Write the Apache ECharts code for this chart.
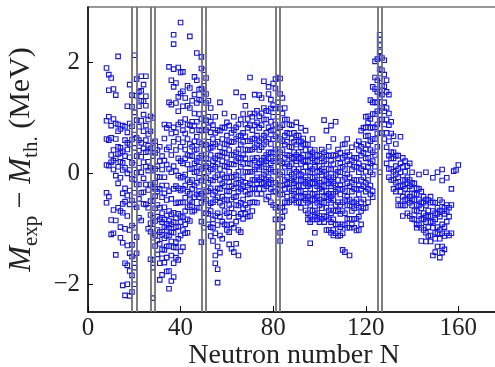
<!DOCTYPE html>
<html>
<head>
<meta charset="utf-8">
<script src="https://cdn.jsdelivr.net/npm/echarts@6/dist/echarts.min.js"></script>
<style>
html,body{margin:0;padding:0;background:#fff;}
#chart{width:495px;height:367px;}
</style>
</head>
<body>
<div id="chart"></div>
<script>
// Each entry: [neutron number N, [M_exp - M_th values in MeV]]
const lightNuclei = [
  [8, [0.95, 0.62, -0.35, -0.53, 1.9, 0.15]],
  [9, [1.78, 1.02, 0.14, -0.42, 0.6, 1.5]],
  [10, [1.72, 0.86, 0.2, -0.84, -1.1, 0.33, 0.64]],
  [11, [1.52, 0.98, 0.07, -0.66, -1.08, 0.42, 0.23]],
  [12, [1.41, 0.62, 0.27, -0.04, -0.85, -1.47, 0.9]],
  [13, [2.11, 0.76, 0.48, 0.12, -0.18, -0.62, 0.35, 0.88]],
  [14, [0.46, 0.21, -0.08, -0.68, -0.97, -1.16, 0.8, 0.37]],
  [15, [0.86, 0.4, 0.06, -0.36, -0.55, -0.71, -1.25, -2.02, 0.19]],
  [16, [0.84, 0.31, 0.1, -0.27, -0.51, -1.0, -1.62, -2.2, 0.6]],
  [17, [1.21, 0.74, 0.43, 0.0, -0.4, -0.77, -1.3, -1.66, -2.0, 0.55]],
  [18, [1.6, 0.9, 0.52, 0.29, 0.06, -0.31, -0.56, -1.02, -1.44, -1.76, -2.21]],
  [19, [1.41, 1.2, 0.85, 0.61, 0.19, -0.1, -0.49, -0.94, -1.29, -1.5, -1.84, -2.14]],
  [20, [2.13, 1.1, 0.7, 0.46, 0.15, -0.11, -0.35, -0.56, -0.98, -1.55, -1.7, -2.0]],
  [21, [1.7, 1.4, 0.96, 0.64, 0.31, 0.01, -0.2, -0.61, -1.15, -1.44]],
  [22, [1.47, 1.21, 0.84, 0.41, 0.1, -0.2, -0.46, -0.8, 0.6]],
  [23, [1.75, 1.49, 1.31, 0.95, 0.55, 0.3, 0.02, -0.35, -0.85]],
  [24, [1.6, 1.3, 1.06, 0.76, 0.45, 0.2, -0.09, -0.55, -0.34]],
  [25, [1.75, 1.39, 1.22, 0.86, 0.6, 0.38, 0.12, -0.2, -0.56]],
  [26, [0.97, 0.71, 0.5, 0.39, 0.05, -0.3, -0.62, -1.0, 0.21]],
  [27, [1.03, 0.76, 0.45, 0.1, -0.2, -0.5, -0.75, -0.9, -1.05, -1.55]],
  [28, [1.0, 0.55, 0.31, 0.05, -0.25, -0.5, -0.8, -1.0, -1.16, -1.7, -2.25, -1.56]]
];
const midLightNuclei = [
  [29, [0.58, 0.37, 0.08, -0.17, -0.41, -0.63, -0.86, -1.12, -1.31, -0.28]],
  [30, [0.42, 0.13, -0.06, -0.33, -0.57, -0.78, -1.02, -1.21, -1.46]],
  [31, [0.48, 0.22, -0.07, -0.28, -0.62, -0.83, -1.06, -1.27, -1.62, -1.92]],
  [32, [0.31, 0.07, -0.22, -0.43, -0.72, -0.88, -1.11, -1.37, -1.53, -1.83]],
  [33, [0.88, 0.63, 0.23, -0.07, -0.36, -0.61, -0.83, -0.97, -1.17, -1.38, -1.61]],
  [34, [0.82, 0.43, 0.16, -0.22, -0.48, -0.76, -0.91, -1.02, -1.13, -1.32, -1.52, -1.77]],
  [35, [1.92, 1.28, 0.87, 0.47, 0.08, -0.32, -0.68, -0.86, -0.98, -1.12, -1.31, -1.76, -2.08]],
  [36, [1.68, 1.24, 0.72, 0.33, 0.02, -0.46, -0.74, -0.92, -1.06, -1.23, -1.48, -1.94]],
  [37, [2.5, 2.33, 1.88, 1.56, 0.83, 0.57, 0.13, -0.28, -0.71, -0.88, -1.07, -1.33, -1.62, -1.87]],
  [38, [1.63, 1.27, 0.74, 0.42, 0.04, -0.23, -0.54, -0.81, -0.97, -1.24, -1.52, -1.34]],
  [39, [1.91, 1.38, 1.12, 0.88, 0.62, 0.27, -0.04, -0.27, -0.52, -0.73, -0.96, -1.18, -1.56]],
  [40, [2.72, 1.82, 1.44, 0.92, 0.48, 0.22, -0.08, -0.31, -0.53, -0.77, -0.88, -1.12, -1.41]],
  [41, [1.83, 1.48, 1.21, 0.78, 0.56, 0.18, -0.06, -0.28, -0.52, -0.79, -1.02, -1.33]],
  [42, [1.36, 0.98, 0.72, 0.43, 0.27, -0.02, -0.22, -0.44, -0.68, -0.92, -1.08]],
  [43, [1.58, 1.22, 0.88, 0.62, 0.33, 0.16, -0.12, -0.33, -0.61, -0.83, -1.07]],
  [44, [2.47, 1.54, 1.18, 0.87, 0.53, 0.32, 0.08, -0.16, -0.37, -0.58, -0.86, -0.48]],
  [45, [1.31, 0.93, 0.77, 0.48, 0.31, 0.08, -0.12, -0.28, -0.52, -0.69]],
  [46, [1.74, 1.42, 1.08, 0.86, 0.58, 0.42, 0.18, 0.02, -0.22, -0.43, -0.67]],
  [47, [2.17, 1.68, 1.27, 0.93, 0.66, 0.43, 0.22, 0.03, -0.17, -0.38, -0.62]],
  [48, [1.51, 1.33, 1.07, 0.78, 0.56, 0.28, 0.12, -0.08, -0.32, -0.43, -0.62]],
  [49, [2.1, 1.89, 1.53, 1.32, 0.98, 0.77, 0.53, 0.32, 0.08, -0.13, -0.37, -0.53, -0.87, -1.24]],
  [50, [1.86, 1.58, 1.46, 1.08, 0.87, 0.58, 0.42, 0.18, 0.02, -0.22, -0.43, -0.72, -0.98]]
];
const midNuclei = [
  [51, [1.72, 1.43, 1.27, 0.96, 0.78, 0.52, 0.27, 0.13, -0.08, -0.33, -0.47, -0.72]],
  [52, [1.31, 1.02, 0.83, 0.57, 0.44, 0.18, 0.03, -0.17, -0.32, -0.58, -0.73, -0.92]],
  [53, [1.18, 0.93, 0.74, 0.46, 0.33, 0.07, -0.12, -0.27, -0.54, -0.68, -0.97, -1.13]],
  [54, [0.87, 0.62, 0.48, 0.22, 0.08, -0.13, -0.38, -0.52, -0.83, -0.98, -1.22]],
  [55, [1.02, 0.73, 0.53, 0.27, 0.12, -0.07, -0.33, -0.48, -0.77, -1.08, -1.48, -1.62]],
  [56, [0.78, 0.57, 0.32, 0.17, -0.03, -0.27, -0.43, -0.72, -0.93, -1.32, -1.73, -1.97]],
  [57, [1.28, 0.77, 0.47, 0.32, 0.08, -0.12, -0.28, -0.53, -0.78, -1.12, -1.43]],
  [58, [0.83, 0.62, 0.38, 0.22, -0.02, -0.18, -0.42, -0.58, -0.87, -1.18]],
  [59, [1.08, 0.82, 0.53, 0.37, 0.13, -0.07, -0.23, -0.47, -0.68, -0.92]],
  [60, [0.92, 0.68, 0.52, 0.28, 0.12, -0.08, -0.32, -0.48, -0.72, -0.93, -1.02]],
  [61, [0.86, 0.58, 0.42, 0.17, 0.03, -0.16, -0.33, -0.57, -0.78, -1.06, -1.28]],
  [62, [0.73, 0.56, 0.33, 0.17, -0.07, -0.23, -0.47, -0.63, -0.92, -1.36]],
  [63, [1.02, 0.78, 0.57, 0.33, 0.16, -0.06, -0.27, -0.43, -0.72, -0.98, -1.42]],
  [64, [1.46, 0.83, 0.62, 0.38, 0.22, -0.03, -0.18, -0.42, -0.57, -0.87, -1.27]],
  [65, [0.88, 0.67, 0.43, 0.27, 0.03, -0.17, -0.33, -0.58, -0.78, -1.02, -1.48]],
  [66, [0.97, 0.68, 0.52, 0.28, 0.12, -0.12, -0.28, -0.53, -0.73, -1.06]],
  [67, [1.38, 1.07, 0.73, 0.57, 0.33, 0.17, -0.07, -0.23, -0.47, -0.63, -0.82]],
  [68, [1.22, 0.88, 0.67, 0.43, 0.27, 0.03, -0.17, -0.33, -0.57, -0.73]],
  [69, [0.98, 0.82, 0.58, 0.42, 0.18, 0.02, -0.22, -0.38, -0.62, -0.78]],
  [70, [1.73, 1.08, 0.87, 0.58, 0.42, 0.17, 0.03, -0.18, -0.37, -0.53, -0.77]],
  [71, [1.02, 0.78, 0.62, 0.43, 0.27, 0.03, -0.12, -0.28, -0.52, -0.68]],
  [72, [1.42, 1.08, 0.87, 0.63, 0.47, 0.23, 0.07, -0.12, -0.28, -0.52]],
  [73, [1.13, 0.92, 0.68, 0.52, 0.28, 0.12, -0.07, -0.18, -0.37, -0.53]],
  [74, [1.41, 1.03, 0.82, 0.58, 0.42, 0.18, 0.07, -0.12, -0.28]],
  [75, [1.36, 1.08, 0.87, 0.63, 0.47, 0.23, 0.12, -0.07, -0.18, -0.37]],
  [76, [1.66, 1.18, 0.97, 0.68, 0.52, 0.28, 0.17, -0.02, -0.17, -0.28]],
  [77, [1.13, 0.97, 0.73, 0.57, 0.33, 0.22, 0.03, -0.12, -0.23, -0.47]],
  [78, [1.56, 1.43, 1.12, 0.83, 0.62, 0.38, 0.27, 0.08, -0.07, -0.18, -0.42]],
  [79, [1.33, 1.17, 0.93, 0.77, 0.53, 0.37, 0.18, 0.07, -0.12, -0.28, -0.52]],
  [80, [1.62, 1.23, 1.02, 0.78, 0.62, 0.38, 0.22, 0.03, -0.17, -0.33, -0.57]],
  [81, [1.7, 1.53, 1.17, 0.88, 0.67, 0.43, 0.27, 0.03, -0.17, -0.33, -0.62, -0.83]],
  [82, [1.73, 1.28, 1.02, 0.73, 0.52, 0.28, 0.12, -0.12, -0.28, -0.52, -0.68]]
];
const midHeavyNuclei = [
  [83, [1.71, 1.43, 1.17, 0.83, 0.62, 0.38, 0.22, -0.02, -0.22, -0.38, -0.62, -0.83, -1.07, -1.22]],
  [84, [1.36, 1.08, 0.87, 0.58, 0.42, 0.18, 0.02, -0.22, -0.38, -0.62, -0.78, -0.97]],
  [85, [1.18, 0.97, 0.68, 0.52, 0.28, 0.12, -0.12, -0.28, -0.52, -0.68]],
  [86, [0.97, 0.73, 0.57, 0.33, 0.17, -0.07, -0.18, -0.42, -0.53]],
  [87, [0.88, 0.72, 0.48, 0.32, 0.13, 0.02, -0.17, -0.28, -0.52]],
  [88, [0.87, 0.63, 0.47, 0.28, 0.17, -0.02, -0.13, -0.32, -0.48]],
  [89, [0.73, 0.57, 0.38, 0.27, 0.08, -0.07, -0.18, -0.37, -0.48]],
  [90, [0.92, 0.68, 0.52, 0.33, 0.22, 0.03, -0.12, -0.23, -0.42, -0.53]],
  [91, [0.68, 0.57, 0.38, 0.27, 0.08, -0.03, -0.22, -0.33, -0.52]],
  [92, [0.82, 0.58, 0.47, 0.28, 0.17, -0.02, -0.13, -0.32, -0.43, -0.62]],
  [93, [0.63, 0.52, 0.33, 0.22, 0.03, -0.12, -0.23, -0.42, -0.53]],
  [94, [0.77, 0.53, 0.42, 0.23, 0.12, -0.07, -0.18, -0.37, -0.48, -0.67]],
  [95, [0.52, 0.33, 0.22, 0.03, -0.12, -0.23, -0.42, -0.53, -0.72, -0.83]],
  [96, [0.43, 0.32, 0.13, 0.02, -0.17, -0.28, -0.47, -0.58, -0.77, -0.88, -1.26]],
  [97, [0.62, 0.38, 0.27, 0.08, -0.07, -0.18, -0.37, -0.48, -0.67, -0.83]],
  [98, [0.42, 0.23, 0.12, -0.07, -0.18, -0.37, -0.48, -0.67, -0.78, -1.07]],
  [99, [0.33, 0.22, 0.03, -0.12, -0.23, -0.42, -0.53, -0.72, -0.83]],
  [100, [0.32, 0.13, 0.02, -0.17, -0.28, -0.47, -0.58, -0.77, -0.88]],
  [101, [0.43, 0.27, 0.08, -0.03, -0.22, -0.33, -0.52, -0.63, -0.82]],
  [102, [0.96, 0.38, 0.22, 0.03, -0.12, -0.23, -0.42, -0.53, -0.77, -0.88]],
  [103, [0.77, 0.33, 0.17, -0.02, -0.13, -0.32, -0.43, -0.62, -0.78, -1.02]],
  [104, [0.48, 0.32, 0.08, -0.07, -0.18, -0.37, -0.48, -0.67, -0.83, -1.02]],
  [105, [0.86, 0.23, 0.07, -0.12, -0.23, -0.42, -0.53, -0.72, -0.88, -1.07]],
  [106, [0.62, 0.33, 0.17, -0.07, -0.18, -0.37, -0.48, -0.67, -0.83, -1.02, -1.12]],
  [107, [0.93, 0.32, 0.08, -0.03, -0.22, -0.33, -0.57, -0.68, -0.92, -1.08]],
  [108, [0.43, 0.27, 0.03, -0.12, -0.28, -0.52, -0.68, -0.92, -1.13]],
  [109, [0.37, 0.18, 0.02, -0.22, -0.38, -0.57, -0.73, -0.97, -1.12]],
  [110, [0.52, 0.28, 0.12, -0.12, -0.28, -0.52, -0.68, -0.92, -1.08, -1.38]],
  [111, [0.53, 0.32, 0.08, -0.08, -0.32, -0.48, -0.72, -0.93, -1.42]],
  [112, [0.62, 0.38, 0.22, -0.02, -0.18, -0.42, -0.58, -0.82, -0.98]],
  [113, [0.33, 0.17, -0.07, -0.23, -0.47, -0.58, -0.82, -0.98, -1.48]],
  [114, [0.47, 0.23, 0.07, -0.17, -0.33, -0.52, -0.68, -0.92]],
  [115, [0.28, 0.12, -0.12, -0.28, -0.52, -0.63, -0.82, -0.98]],
  [116, [0.52, 0.28, 0.12, -0.12, -0.28, -0.47, -0.58, -0.82, -1.03]],
  [117, [0.58, 0.42, 0.18, 0.02, -0.22, -0.38, -0.62, -0.78, -1.02]],
  [118, [0.77, 0.48, 0.32, 0.08, -0.12, -0.28, -0.52, -0.68, -0.92]],
  [119, [0.82, 0.53, 0.37, 0.13, -0.07, -0.23, -0.47, -0.63]],
  [120, [1.02, 0.83, 0.67, 0.43, 0.27, 0.03, -0.17, -0.33, -0.62]],
  [121, [1.03, 0.92, 0.68, 0.52, 0.28, 0.12, -0.12, -0.28, -0.52]],
  [122, [1.32, 0.98, 0.82, 0.58, 0.42, 0.18, 0.02, -0.22, -0.38]],
  [123, [1.56, 1.28, 1.07, 0.83, 0.62, 0.38, 0.22, -0.02, -0.32, -0.43]],
  [124, [2.02, 1.73, 1.52, 1.28, 1.07, 0.83, 0.62, 0.33, 0.12]],
  [125, [2.06, 1.68, 1.47, 1.28, 1.12, 0.88, 0.72, 0.48]],
  [126, [2.5, 2.41, 2.31, 2.2, 2.1, 1.88, 1.72, 1.48, 1.37, 1.13, 0.97, 0.02]]
];
const heavyNuclei = [
  [127, [2.08, 1.86, 1.58, 1.42, 1.18, 0.97, 0.73]],
  [128, [2.04, 1.78, 1.57, 1.28, 1.12, 0.88, 0.62]],
  [129, [1.68, 1.47, 1.18, 0.97, 0.73, 0.47, 0.18]],
  [130, [1.42, 1.08, 0.87, 0.58, 0.32, 0.08, -0.07]],
  [131, [0.93, 0.72, 0.38, 0.27, 0.08, -0.12]],
  [132, [0.67, 0.38, 0.27, 0.03, -0.12, -0.28]],
  [133, [0.53, 0.32, 0.13, -0.02, -0.17, -0.33]],
  [134, [0.32, 0.08, -0.07, -0.23, -0.47, -0.58]],
  [135, [0.66, 0.18, 0.02, -0.22, -0.33, -0.57]],
  [136, [0.28, 0.12, -0.12, -0.23, -0.42, -0.58, -0.77]],
  [137, [0.22, 0.03, -0.12, -0.28, -0.47, -0.58]],
  [138, [0.13, -0.07, -0.18, -0.37, -0.48, -0.72]],
  [139, [0.18, -0.12, -0.23, -0.42, -0.53, -0.77]],
  [140, [0.02, -0.17, -0.28, -0.47, -0.58, -0.82]],
  [141, [-0.18, -0.37, -0.48, -0.67, -0.83]],
  [142, [-0.27, -0.38, -0.57, -0.68, -0.92, -0.98]],
  [143, [-0.02, -0.28, -0.47, -0.58, -0.77, -0.93]],
  [144, [-0.33, -0.52, -0.63, -0.82, -0.98, -1.22]],
  [145, [-0.42, -0.53, -0.72, -0.83, -1.02]],
  [146, [0.02, -0.47, -0.58, -0.77, -0.88, -1.07, -1.23]],
  [147, [-0.48, -0.67, -0.78, -0.97, -1.13]],
  [148, [-0.42, -0.53, -0.77, -0.88, -1.12, -1.23]],
  [149, [-0.08, -0.52, -0.68, -0.87, -0.98, -1.48]],
  [150, [-0.53, -0.72, -0.83, -1.07, -1.18, -1.42]],
  [151, [0.02, -0.62, -0.73, -0.97, -1.08, -1.32]],
  [152, [-0.48, -0.67, -0.78, -1.02, -1.18, -1.52]],
  [153, [0.07, -0.13, -0.52, -0.68, -0.92, -1.08, -1.32, -1.43]],
  [154, [-0.62, -0.73, -0.97, -1.13, -1.37]],
  [155, [-0.08, -0.57, -0.68, -0.87, -1.08]],
  [156, [-0.62, -0.78, -1.12]],
  [157, [-0.28, -0.57, -1.08]],
  [158, [0.04]],
  [159, [0.06]],
  [160, [0.15]]
];
// magic-number bands drawn as pairs of vertical lines
const magicLines = [19, 21, 27, 29, 49, 51, 81, 83, 125, 127];
const xTicks = [0, 40, 80, 120, 160];
const yTicks = [-2, 0, 2];

const points = [];
[lightNuclei, midLightNuclei, midNuclei, midHeavyNuclei, heavyNuclei].forEach(seg => {
  seg.forEach(([n, ys]) => ys.forEach(y => points.push([n, y])));
});

const chart = echarts.init(document.getElementById('chart'), null, {renderer: 'canvas'});
const serif = '"Liberation Serif", "DejaVu Serif", serif';
chart.setOption({
  animation: false,
  backgroundColor: '#fff',
  grid: {left: 88, top: 7, right: -5, bottom: 55, show: true, borderColor: '#777', borderWidth: 1.5,
    backgroundColor: '#fff', outerBoundsMode: 'none', containLabel: false},
  xAxis: {
    type: 'value', min: 0, max: 178,
    splitLine: {show: false},
    axisLine: {onZero: false, lineStyle: {color: '#000', width: 1.5}},
    axisTick: {inside: true, length: 6, customValues: xTicks, lineStyle: {color: '#000', width: 1}},
    axisLabel: {customValues: xTicks, fontFamily: serif, fontSize: 25, color: '#222', margin: 4},
    name: 'Neutron number N', nameLocation: 'middle', nameGap: 30, nameMoveOverlap: false,
    nameTextStyle: {fontFamily: serif, fontSize: 28, color: '#222'}
  },
  yAxis: {
    type: 'value', min: -2.5, max: 3,
    splitLine: {show: false},
    axisLine: {onZero: false, lineStyle: {color: '#000', width: 1.5}},
    axisTick: {inside: true, length: 5, customValues: yTicks, lineStyle: {color: '#000', width: 1}},
    axisLabel: {customValues: yTicks, fontFamily: serif, fontSize: 25, color: '#222', margin: 8,
      formatter: v => (v < 0 ? '\u2212' + Math.abs(v) : String(v))},
    name: '{m|M}{s|exp}{t| \u2212 }{m|M}{s|th.}{t| (MeV)}',
    nameLocation: 'middle', nameRotate: 90, nameGap: 46, nameMoveOverlap: false,
    nameTextStyle: {
      fontFamily: serif, fontSize: 30, color: '#222',
      rich: {
        m: {fontFamily: serif, fontSize: 31, fontStyle: 'italic', color: '#222', verticalAlign: 'top', padding: [0, 0, 5, 0]},
        s: {fontFamily: serif, fontSize: 21, color: '#222', verticalAlign: 'bottom'},
        t: {fontFamily: serif, fontSize: 30, color: '#222', verticalAlign: 'top', padding: [0, 0, 5, 0]}
      }
    }
  },
  series: [
    {
      type: 'scatter', data: [], silent: true, z: 1,
      markLine: {
        silent: true, symbol: ['none', 'none'], label: {show: false},
        lineStyle: {color: '#707070', width: 1.8, type: 'solid'},
        data: magicLines.map(n => ({xAxis: n}))
      }
    },
    {
      type: 'scatter', data: points, z: 2, symbol: 'rect', symbolSize: 4.5,
      itemStyle: {color: 'rgba(255,255,255,0)', borderColor: '#1414f0', borderWidth: 1.1, opacity: 1}
    }
  ]
});
</script>
</body>
</html>
